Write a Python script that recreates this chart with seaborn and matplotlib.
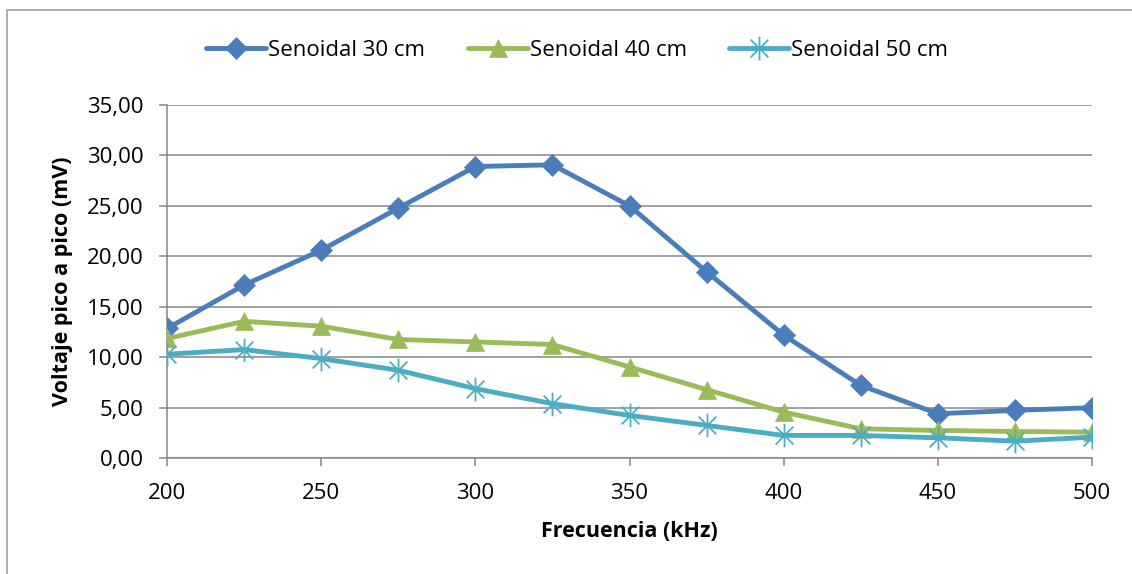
import matplotlib
matplotlib.use("Agg")
import matplotlib.pyplot as plt
from matplotlib.patches import Rectangle
from matplotlib.path import Path
from matplotlib.ticker import FuncFormatter, MultipleLocator
import seaborn as sns
import pandas as pd

# Frequency sweep (kHz) and peak-to-peak voltage (mV) at three distances
freq_khz = [200, 225, 250, 275, 300, 325, 350, 375, 400, 425, 450, 475, 500]
v_30cm = [12.84, 17.15, 20.60, 24.77, 28.90, 29.07, 25.00, 18.47, 12.18, 7.20, 4.39, 4.72, 4.99]
v_40cm = [11.85, 13.55, 13.07, 11.75, 11.51, 11.25, 9.03, 6.78, 4.55, 2.90, 2.73, 2.63, 2.56]
v_50cm = [10.29, 10.75, 9.86, 8.70, 6.88, 5.39, 4.22, 3.23, 2.24, 2.24, 2.00, 1.67, 2.07]

series_names = ["Senoidal 30 cm", "Senoidal 40 cm", "Senoidal 50 cm"]
series_values = [v_30cm, v_40cm, v_50cm]
colors = ["#4A7EBB", "#9BBB59", "#4BACC6"]

# Asterisk marker: vertical stroke plus an X
asterisk = Path(
    [(0, -1), (0, 1), (-0.75, -0.75), (0.75, 0.75), (-0.75, 0.75), (0.75, -0.75)],
    [Path.MOVETO, Path.LINETO, Path.MOVETO, Path.LINETO, Path.MOVETO, Path.LINETO],
)
markers = ["D", "^", asterisk]
marker_sizes = [11, 13, 17]

df = pd.concat(
    [pd.DataFrame({"freq": freq_khz, "v": vals, "serie": name})
     for name, vals in zip(series_names, series_values)],
    ignore_index=True,
)

sns.set_theme(style="white")
plt.rcParams["font.family"] = ["Open Sans", "DejaVu Sans"]
plt.rcParams["text.color"] = "black"
plt.rcParams["axes.labelcolor"] = "black"

fig = plt.figure(figsize=(11.32, 5.74), dpi=100)
ax = fig.add_axes([167 / 1132, 1 - 458 / 574, (1092 - 167) / 1132, (458 - 105) / 574])

for i, (name, color, mk, ms) in enumerate(zip(series_names, colors, markers, marker_sizes)):
    is_star = i == 2
    sns.lineplot(
        data=df[df["serie"] == name], x="freq", y="v", ax=ax,
        color=color, linewidth=3.5, marker=mk, markersize=ms,
        markeredgecolor=color, markeredgewidth=1.3 if is_star else 0.5,
        markerfacecolor="none" if is_star else color, label=name, zorder=3,
    )

ax.set_xlim(200, 500)
ax.set_ylim(0, 35)
ax.xaxis.set_major_locator(MultipleLocator(50))
ax.yaxis.set_major_locator(MultipleLocator(5))
ax.yaxis.set_major_formatter(FuncFormatter(lambda v, _: f"{v:.2f}".replace(".", ",")))

ax.grid(axis="y", color="#868686", linewidth=1.1)
ax.grid(axis="x", visible=False)
ax.set_axisbelow(True)
for side in ["top", "right"]:
    ax.spines[side].set_visible(False)
for side in ["left", "bottom"]:
    ax.spines[side].set_color("#868686")
    ax.spines[side].set_linewidth(1.1)
    ax.spines[side].set_clip_on(False)

ax.tick_params(axis="both", which="major", direction="out", length=6, width=1.1,
               color="#868686", labelsize=16, labelcolor="black")
ax.tick_params(axis="x", pad=12, bottom=True)
ax.tick_params(axis="y", left=True, pad=11)

ax.set_xlabel("Frecuencia (kHz)", fontsize=15.5, fontweight="bold", labelpad=12)
ax.set_ylabel("Voltaje pico a pico (mV)", fontsize=15.5, fontweight="bold", labelpad=10)

ax.legend(loc="center", bbox_to_anchor=(0.51, (574 - 50) / 574),
          bbox_transform=fig.transFigure, ncol=3, frameon=False, fontsize=16,
          handlelength=2.7, handletextpad=0.1, columnspacing=1.9)

# Chart frame
fig.patches.append(Rectangle((7 / 1132, -0.05), 1.2, (574 - 10) / 574 + 0.05,
                             transform=fig.transFigure, fill=False,
                             edgecolor="#A0A0A0", linewidth=1.2, zorder=0))

fig.savefig("out.png", dpi=100)
